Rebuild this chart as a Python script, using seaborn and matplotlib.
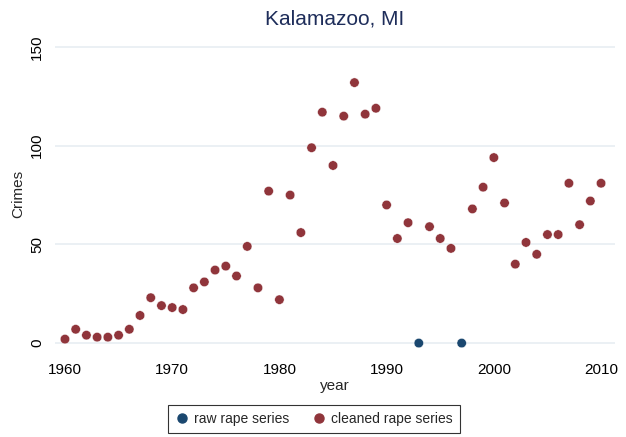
import pandas as pd
import matplotlib.pyplot as plt
import seaborn as sns

# cleaned series (1993 and 1997 missing)
years = [1960, 1961, 1962, 1963, 1964, 1965, 1966, 1967, 1968, 1969,
         1970, 1971, 1972, 1973, 1974, 1975, 1976, 1977, 1978, 1979,
         1980, 1981, 1982, 1983, 1984, 1985, 1986, 1987, 1988, 1989,
         1990, 1991, 1992, 1994, 1995, 1996, 1998, 1999,
         2000, 2001, 2002, 2003, 2004, 2005, 2006, 2007, 2008, 2009, 2010]
cleaned = [2, 7, 4, 3, 3, 4, 7, 14, 23, 19,
           18, 17, 28, 31, 37, 39, 34, 49, 28, 77,
           22, 75, 56, 99, 117, 90, 115, 132, 116, 119,
           70, 53, 61, 59, 53, 48, 68, 79,
           94, 71, 40, 51, 45, 55, 55, 81, 60, 72, 81]

# raw series points that differ from the cleaned one
raw_years = [1993, 1997]
raw_values = [0, 0]

navy = "#1a476f"
maroon = "#90353b"

df = pd.concat([
    pd.DataFrame({"year": raw_years, "Crimes": raw_values, "series": "raw rape series"}),
    pd.DataFrame({"year": years, "Crimes": cleaned, "series": "cleaned rape series"}),
])

sns.set_theme(style="white")
plt.rcParams['font.family'] = ['Liberation Sans', 'DejaVu Sans']

fig = plt.figure(figsize=(6.26, 4.37), dpi=100)
ax = fig.add_axes([55 / 626, 1 - 350 / 437, 560 / 626, 312 / 437])

sns.scatterplot(data=df, x="year", y="Crimes", hue="series",
                palette={"raw rape series": navy, "cleaned rape series": maroon},
                s=46, edgecolor="white", linewidth=0.3, ax=ax, legend=False)

ax.set_xlim(1959.07, 2011.3)
ax.set_ylim(-3.5, 154.6)
ax.set_xticks([1960, 1970, 1980, 1990, 2000, 2010])
ax.set_yticks([0, 50, 100, 150])
ax.set_yticklabels(["0", "50", "100", "150"], rotation=90, va="center")
ax.yaxis.grid(True, color="#e8eef2", linewidth=1.2)
ax.set_axisbelow(True)
for s in ax.spines.values():
    s.set_visible(False)
ax.tick_params(axis="both", direction="out", length=4, width=0.8, color="black",
               labelsize=11, labelcolor="black")
ax.tick_params(axis="x", pad=5)
ax.tick_params(axis="y", pad=4)

ax.set_xlabel("year", fontsize=11, labelpad=2)
ax.set_ylabel("Crimes", fontsize=11, labelpad=3)
ax.set_title("Kalamazoo, MI", fontsize=15, color="#1e2d5a", pad=10)

handles = [
    plt.Line2D([], [], marker="o", linestyle="", color=navy, markersize=6.5),
    plt.Line2D([], [], marker="o", linestyle="", color=maroon, markersize=6.5),
]
leg = fig.legend(handles, ["raw rape series", "cleaned rape series"],
                 loc="center", bbox_to_anchor=(314 / 626, 1 - 419 / 437), ncol=2,
                 fontsize=10, frameon=True, fancybox=False, handletextpad=0.4,
                 columnspacing=1.6, handlelength=1.0, borderpad=0.5)
leg.get_frame().set_edgecolor("black")
leg.get_frame().set_linewidth(0.8)

fig.savefig("out.png", dpi=100)
